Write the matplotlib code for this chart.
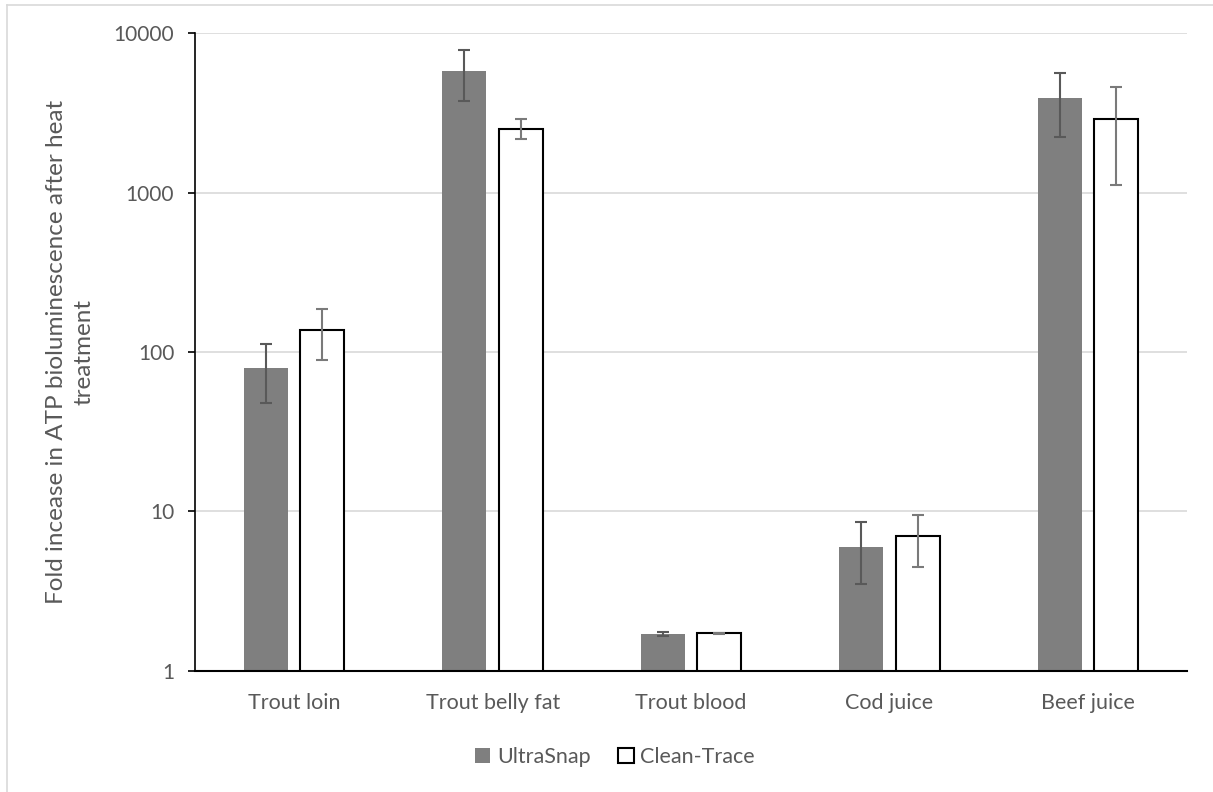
import numpy as np
import matplotlib.pyplot as plt
from matplotlib.lines import Line2D
from matplotlib.patches import Patch

plt.rcParams['font.family'] = ['Lato', 'DejaVu Sans']

# valeurs
categories = ["Trout loin", "Trout belly fat", "Trout blood", "Cod juice", "Beef juice"]
ultrasnap = [79.7, 5750, 1.71, 6.02, 3890]
ultrasnap_hi = [112, 7820, 1.76, 8.63, 5590]
ultrasnap_lo = [48, 3750, 1.66, 3.51, 2230]
cleantrace = [137, 2510, 1.72, 6.99, 2880]
cleantrace_hi = [185, 2880, 1.73, 9.5, 4610]
cleantrace_lo = [88.7, 2165, 1.71, 4.49, 1120]
yticks = [1, 10, 100, 1000, 10000]

txt = "#595959"
x = np.arange(len(categories))
w = 0.222

fig = plt.figure(figsize=(12.13, 7.92), dpi=100)
ax = fig.add_axes([0.1608, 0.1528, 0.8178, 0.8055])

us = np.array(ultrasnap)
ct = np.array(cleantrace)
err_us = [us - np.array(ultrasnap_lo), np.array(ultrasnap_hi) - us]
err_ct = [ct - np.array(cleantrace_lo), np.array(cleantrace_hi) - ct]

ax.bar(x - 0.142, us, w, color="#7f7f7f", zorder=2, label="UltraSnap")
ax.bar(x + 0.142, ct, w, color="white", edgecolor="black", linewidth=1.5, zorder=2, label="Clean-Trace")
ax.errorbar(x - 0.142, us, yerr=err_us, fmt="none", ecolor="#595959", elinewidth=1.5, capsize=4.5, capthick=1.5, zorder=3)
ax.errorbar(x + 0.142, ct, yerr=err_ct, fmt="none", ecolor="#7a7a7a", elinewidth=1.5, capsize=4.5, capthick=1.5, zorder=3)

ax.set_yscale("log")
ax.set_ylim(1, 10000)
ax.set_xlim(-0.5, len(categories) - 0.5)
ax.set_yticks(yticks)
ax.set_yticklabels([str(v) for v in yticks])
ax.yaxis.set_minor_locator(plt.NullLocator())
ax.set_xticks(x)
ax.set_xticklabels(categories)
ax.tick_params(axis="x", length=0, pad=16, labelsize=15.5, labelcolor=txt)
ax.tick_params(axis="y", length=5, width=1.2, pad=10, labelsize=15, labelcolor=txt)
ax.grid(axis="y", color="#d9d9d9", linewidth=1.2, zorder=0)
for s in ["top", "right"]:
    ax.spines[s].set_visible(False)
ax.spines["left"].set_linewidth(1.2)
ax.spines["bottom"].set_linewidth(1.5)

ax.set_ylabel("Fold incease in ATP bioluminescence after heat\ntreatment", fontsize=17.5,
              color=txt, labelpad=14, linespacing=1.35)

handles = [Patch(facecolor="#7f7f7f", label="UltraSnap"),
           Patch(facecolor="white", edgecolor="black", linewidth=1.5, label="Clean-Trace")]
fig.legend(handles=handles, loc="center", bbox_to_anchor=(0.507, 0.044), ncol=2, frameon=False,
           fontsize=15.5, labelcolor=txt, handlelength=0.7, handleheight=0.7, handletextpad=0.3, columnspacing=1.3)

# cadre gris autour
fig.add_artist(Line2D([7 / 1213, 7 / 1213], [0, 1 - 5 / 792], color="#d9d9d9", linewidth=1.2))
fig.add_artist(Line2D([7 / 1213, 1], [1 - 5 / 792, 1 - 5 / 792], color="#d9d9d9", linewidth=1.2))

fig.savefig("out.png", dpi=100)
